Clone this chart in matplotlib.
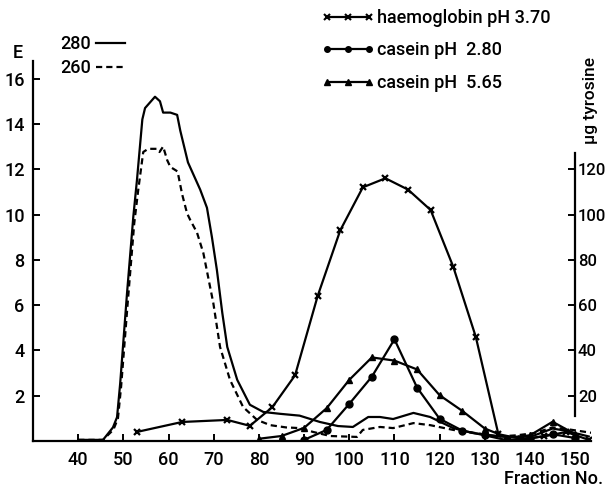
import matplotlib
matplotlib.use('Agg')
import matplotlib.pyplot as plt
from matplotlib.lines import Line2D

plt.rcParams['font.family'] = ['Roboto', 'DejaVu Sans']
plt.rcParams['font.size'] = 13
plt.rcParams['font.weight'] = 'medium'

# E at 280 nm (solid)
e280_x = [40, 45.5, 47.7, 48.6, 49.3, 50.8, 52.2, 53, 54.2, 54.8, 57, 58.1, 58.8, 60.4,
          61.9, 62.6, 64.3, 67, 68.5, 69.6, 70.7, 71.9, 73, 75.2, 78, 81, 84.7, 89, 93.5,
          97.5, 100.8, 104.2, 106.8, 109.7, 114.2, 117.9, 123, 127.4, 133.4, 137, 141,
          145, 148, 153]
e280_y = [0.05, 0.05, 0.6, 1.05, 2.55, 6.5, 9.9, 11.5, 14.2, 14.7, 15.2, 15.0, 14.5, 14.5,
          14.4, 13.7, 12.3, 11.1, 10.3, 9.0, 7.55, 5.65, 4.15, 2.7, 1.6, 1.28, 1.2, 1.12, 0.84,
          0.66, 0.62, 1.06, 1.06, 0.97, 1.24, 1.06, 0.57, 0.35, 0.2, 0.15, 0.25,
          0.55, 0.45, 0.2]

# E at 260 nm (dashed)
e260_x = [40, 45.5, 47.8, 48.8, 49.5, 51, 52.4, 53.3, 54.4, 55.5, 57.4, 58, 58.8, 59.7,
          60.4, 62, 63, 64.1, 64.8, 66.3, 67.7, 69.9, 71.4, 73.6, 76.5, 79.6, 82.5, 86, 89,
          92, 95.8, 101.7, 103, 106.8, 109.7, 114.2, 117.9, 123, 128, 133, 137, 141, 145,
          149, 154]
e260_y = [0.05, 0.05, 0.5, 1.0, 2.4, 6.2, 9.6, 11.1, 12.76, 12.9, 12.9, 12.76, 13.0, 12.4,
          12.1, 11.9, 10.9, 10.05, 9.76, 9.2, 8.3, 6.1, 4.15, 2.7, 1.5, 0.93, 0.7, 0.6, 0.57,
          0.4, 0.22, 0.18, 0.49, 0.62, 0.57, 0.79, 0.7, 0.49, 0.35, 0.2, 0.25, 0.35, 0.6,
          0.5, 0.35]

# ug tyrosine
hb_x = [53, 63, 73, 78, 83, 88, 93, 98, 103, 108, 113, 118, 123, 128, 133, 138, 143, 148, 153]
hb_y = [4, 8.4, 9.3, 6.7, 15, 29, 64, 93, 112, 116, 111, 102, 77, 46, 3, 1, 2, 4, 0.5]

cas28_x = [90, 95, 100, 105, 110, 115, 120, 125, 130, 135, 140, 145, 150]
cas28_y = [0.5, 4.9, 16.4, 28.4, 44.9, 23.6, 9.8, 4.6, 2.5, 0.3, 1.0, 3.0, 1.3]

cas565_x = [80, 85, 90, 95, 100, 105, 110, 115, 120, 125, 130, 135, 140, 145, 150]
cas565_y = [1.0, 2.2, 5.8, 14.5, 27, 36.9, 35.5, 31.6, 20.2, 13.3, 5.5, 1.5, 2.5, 8.5, 3]

x_ticks = [40, 50, 60, 70, 80, 90, 100, 110, 120, 130, 140, 150]
e_ticks = [2, 4, 6, 8, 10, 12, 14, 16]
ug_ticks = [20, 40, 60, 80, 100, 120]

W, H = 605, 491
fig = plt.figure(figsize=(W / 100, H / 100), dpi=100)
ax = fig.add_axes([33 / W, 1 - 441 / H, 558 / W, 380.5 / H])
ax.set_xlim(30, 153.5)
ax.set_ylim(0, 16.8)

lw = 1.6
dash = (0, (2.8, 1.8))
ax.plot(e280_x, e280_y, color='black', lw=lw)
ax.plot(e260_x, e260_y, color='black', lw=lw, linestyle=dash)

ax.spines['top'].set_visible(False)
ax.spines['right'].set_visible(False)
ax.spines['left'].set_linewidth(1.6)
ax.spines['bottom'].set_linewidth(1.6)
ax.set_xticks(x_ticks)
ax.set_yticks(e_ticks)
ax.tick_params(direction='in', length=5, width=1.4, pad=6)
ax.tick_params(axis='x', pad=7)

ax2 = ax.twinx()
ax2.set_ylim(0, 168)
ax2.plot(hb_x, hb_y, color='black', lw=lw, marker='x', ms=5, mew=1.6)
ax2.plot(cas28_x, cas28_y, color='black', lw=lw, marker='o', ms=5)
ax2.plot(cas565_x, cas565_y, color='black', lw=lw, marker='^', ms=4)
for s in ['top', 'left', 'bottom']:
    ax2.spines[s].set_visible(False)
ax2.spines['right'].set_position(('data', 150))
ax2.spines['right'].set_bounds(11, 127)
ax2.spines['right'].set_linewidth(1.6)
ax2.set_yticks(ug_ticks)
ax2.tick_params(direction='in', length=5, width=1.4, pad=2, labelsize=12)

fig.text(18 / W, 1 - 53 / H, 'E', ha='center', va='center', fontsize=13)
fig.text(603 / W, 1 - 479 / H, 'Fraction No.', ha='right', va='center', fontsize=13)
fig.text(591 / W, 1 - 100 / H, 'µg tyrosine', rotation=90, ha='center', va='center', fontsize=12.5)

h1 = [Line2D([], [], color='black', lw=lw),
      Line2D([], [], color='black', lw=lw, linestyle=dash)]
fig.legend(h1, ['280', '260'], loc='upper left', bbox_to_anchor=(60 / W, 1 - 35 / H),
           frameon=False, markerfirst=False, handlelength=1.6, handletextpad=0.3,
           labelspacing=0.35, borderpad=0, borderaxespad=0)

h2 = [Line2D([], [], color='black', lw=lw, marker='x', ms=4, mew=1.5),
      Line2D([], [], color='black', lw=lw, marker='o', ms=4),
      Line2D([], [], color='black', lw=lw, marker='^', ms=4)]
fig.legend(h2, ['haemoglobin pH 3.70', 'casein pH  2.80', 'casein pH  5.65'],
           loc='upper left', bbox_to_anchor=(322 / W, 1 - 9 / H), frameon=False,
           numpoints=3, handlelength=2.9, handletextpad=0.15, labelspacing=0.8,
           borderpad=0, borderaxespad=0)

fig.savefig('out.png', dpi=100)
